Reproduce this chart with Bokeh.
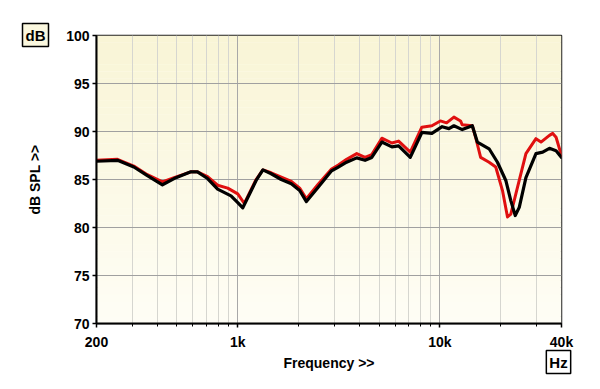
import numpy as np
from bokeh.plotting import figure
from bokeh.models import FixedTicker, Label, Range1d
from bokeh.embed import file_html
from bokeh.resources import INLINE

# ---- data ----
black_freq = [200, 254, 306, 357, 424, 484, 586, 632, 709, 795, 926, 1000, 1059,
              1233, 1332, 1464, 1642, 1842, 2025, 2186, 2500, 2912, 3145, 3458,
              3879, 4265, 4605, 5164, 5790, 6252, 7140, 8147, 9135, 10265, 11090,
              11740, 12910, 14480, 15330, 17530, 19280, 21210, 22450, 23610, 24720,
              26670, 29900, 32280, 34860, 37600, 40000]
black_db = [86.9, 87.0, 86.3, 85.4, 84.45, 85.1, 85.8, 85.8, 85.1, 84.0, 83.3, 82.6, 82.05,
            84.9, 86.0, 85.6, 85.0, 84.55, 83.85, 82.7, 84.2, 85.9, 86.3, 86.8,
            87.25, 87.0, 87.3, 88.9, 88.4, 88.5, 87.3, 89.9, 89.8, 90.5, 90.3,
            90.6, 90.2, 90.6, 88.9, 88.2, 86.8, 84.9, 82.8, 81.25, 82.1,
            85.2, 87.7, 87.85, 88.25, 88.0, 87.3]

red_freq = [200, 254, 306, 357, 424, 484, 586, 632, 709, 795, 892, 1000, 1078,
            1233, 1332, 1464, 1642, 1842, 2025, 2186, 2500, 2912, 3145, 3458,
            3879, 4265, 4605, 5164, 5790, 6252, 7140, 8147, 9135, 10060, 10800,
            11740, 12660, 12910, 14480, 15030, 15920, 17530, 18910, 20420, 21620,
            22450, 23780, 26670, 29900, 31660, 34860, 36210, 37600, 40000]
red_db = [87.0, 87.1, 86.4, 85.5, 84.75, 85.2, 85.8, 85.8, 85.3, 84.4, 84.1, 83.5, 82.5,
          85.0, 86.0, 85.7, 85.25, 84.8, 84.1, 83.0, 84.5, 86.1, 86.5, 87.1,
          87.7, 87.3, 87.6, 89.3, 88.8, 89.0, 87.85, 90.45, 90.6, 91.1, 90.9,
          91.5, 91.1, 90.7, 90.6, 89.4, 87.3, 86.8, 86.3, 83.85, 81.1,
          81.4, 83.5, 87.7, 89.25, 88.9, 89.6, 89.8, 89.4, 87.5]

x_major = [200, 1000, 10000, 40000]
x_labels = ["200", "1k", "10k", "40k"]
x_minor = [300, 400, 500, 600, 700, 800, 900,
           2000, 3000, 4000, 5000, 6000, 7000, 8000, 9000,
           20000, 30000]
y_ticks = [70, 75, 80, 85, 90, 95, 100]

FONT = "Liberation Sans"
W, H = 590, 381

p = figure(width=W, height=H, x_axis_type="log",
           x_range=Range1d(200, 40000), y_range=Range1d(70, 100),
           output_backend="svg", toolbar_location=None,
           min_border_left=96, min_border_right=29,
           min_border_top=35, min_border_bottom=58)
p.background_fill_color = "#FFFEF4"
p.border_fill_color = "white"
p.outline_line_color = "#222222"
p.outline_line_width = 1.5

# vertical cream gradient background
nb = 40
edges = np.linspace(70, 100, nb + 1)
c0 = np.array([255, 254, 246])  # bottom
c1 = np.array([249, 245, 214])  # top
cols = []
for i in range(nb):
    t = (i + 0.5) / nb
    c = (c0 * (1 - t) + c1 * t).astype(int)
    cols.append("#%02x%02x%02x" % tuple(c))
p.quad(left=[200] * nb, right=[40000] * nb, bottom=edges[:-1], top=edges[1:],
       fill_color=cols, line_color=None, level="image")

# axes
p.xaxis.ticker = FixedTicker(ticks=x_major, minor_ticks=x_minor)
p.xaxis.major_label_overrides = {t: l for t, l in zip(x_major, x_labels)}
p.yaxis.ticker = FixedTicker(ticks=y_ticks)
p.xaxis.axis_label = "Frequency >>"
p.yaxis.axis_label = "dB SPL >>"
for ax in (p.xaxis, p.yaxis):
    ax.axis_line_color = "black"
    ax.axis_line_width = 2
    ax.major_tick_line_color = "black"
    ax.major_tick_line_width = 1.5
    ax.major_tick_in = 0
    ax.major_tick_out = 4
    ax.major_label_text_font = FONT
    ax.major_label_text_font_style = "bold"
    ax.major_label_text_font_size = "14px"
    ax.major_label_text_color = "black"
    ax.axis_label_text_font = FONT
    ax.axis_label_text_font_style = "bold"
    ax.axis_label_text_font_size = "14px"
    ax.axis_label_text_color = "black"
p.xaxis.minor_tick_line_color = "black"
p.xaxis.minor_tick_in = 0
p.xaxis.minor_tick_out = 3
p.yaxis.minor_tick_line_color = None
p.xaxis.major_label_standoff = 6
p.yaxis.major_label_standoff = 3
p.xaxis.axis_label_standoff = 2
p.yaxis.axis_label_standoff = 20

# grid
p.xgrid.grid_line_color = "#A8A8A8"
p.xgrid.grid_line_width = 1
p.xgrid.minor_grid_line_color = "#D6D6D0"
p.xgrid.minor_grid_line_width = 1
p.ygrid.grid_line_color = "#A0A0A0"
p.ygrid.grid_line_width = 1

# curves
p.line(red_freq, red_db, line_color="#E01010", line_width=3,
       line_join="round", line_cap="round")
p.line(black_freq, black_db, line_color="black", line_width=3.2,
       line_join="round", line_cap="round")

# unit boxes, placed in side panels (not clipped to the frame)
def unit_box(txt, x, y, fill):
    return Label(x=x, y=y, x_units="screen", y_units="screen", text=txt,
                 text_align="center", text_baseline="middle",
                 text_font=FONT, text_font_style="bold",
                 text_font_size="15px", text_color="black",
                 background_fill_color=fill,
                 border_line_color="black", border_line_width=1.5,
                 padding=3)

p.add_layout(unit_box("dB", -61, 0.5, "#FBF8DF"), "above")
p.add_layout(unit_box("Hz", -3, -38.5, "#FFFFFF"), "right")

open("out.html", "w").write(file_html(p, INLINE))
